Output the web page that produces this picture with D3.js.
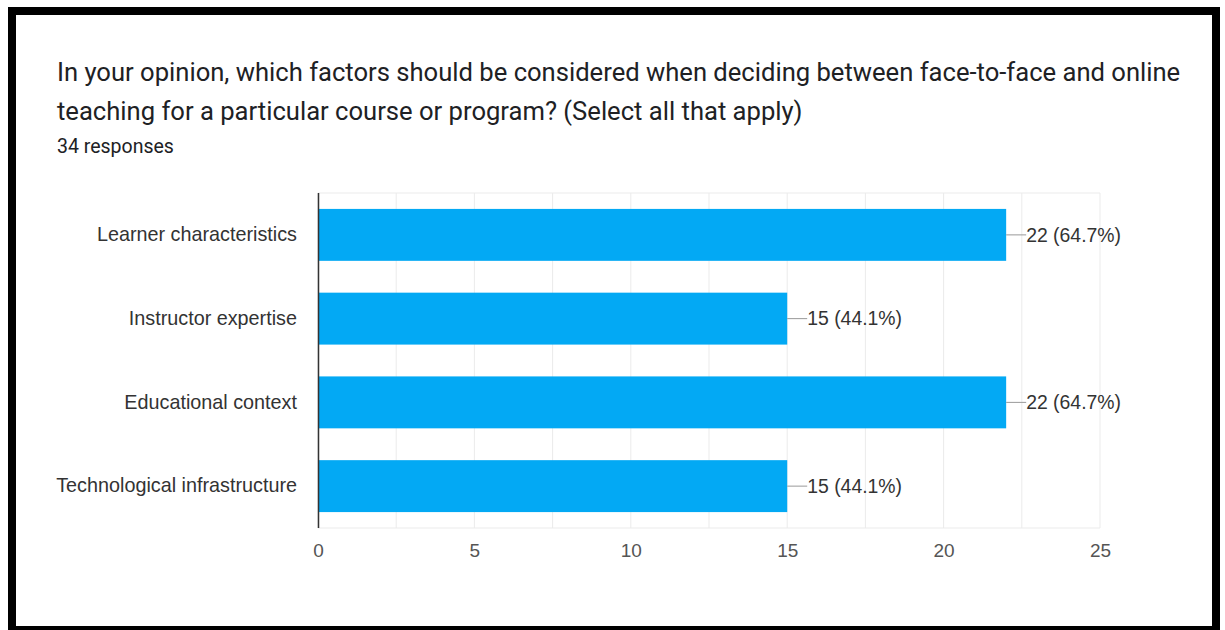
<!DOCTYPE html>
<html><head><meta charset="utf-8">
<script src="https://cdn.jsdelivr.net/npm/d3@7"></script>
<style>body{margin:0;background:#fff;}svg{display:block;}</style>
</head><body>
<svg id="chart" width="1225" height="630"></svg>
<script>
const categories = ["Learner characteristics","Instructor expertise","Educational context","Technological infrastructure"];
const counts = [22,15,22,15];
const percents = ["64.7%","44.1%","64.7%","44.1%"];
const xTicks = [0,5,10,15,20,25];
const titleLines = ["In your opinion, which factors should be considered when deciding between face-to-face and online","teaching for a particular course or program? (Select all that apply)"];
const subtitle = "34 responses";

const svg = d3.select("#chart");
// frame
svg.append("rect").attr("x",8).attr("y",7).attr("width",1212).attr("height",630).attr("fill","#000");
svg.append("rect").attr("x",16).attr("y",15).attr("width",1196).attr("height",611).attr("fill","#fff");

svg.selectAll("text.title").data(titleLines).join("text")
  .attr("x",57).attr("y",(d,i)=>81+i*39)
  .attr("font-family","Roboto").attr("font-size",25.6).attr("fill","#202124").text(d=>d);
svg.append("text").attr("x",57).attr("y",153).attr("font-family","Roboto").attr("font-size",19.5).attr("fill","#202124").text(subtitle);

const x = d3.scaleLinear().domain([0,25]).range([318,1100]);
const y = d3.scaleBand().domain(categories).range([193,528]).paddingInner(0.38).paddingOuter(0.19);

const gridVals = d3.range(0,25.01,2.5);
svg.append("g").selectAll("line").data(gridVals).join("line")
  .attr("x1",d=>x(d)).attr("x2",d=>x(d)).attr("y1",193).attr("y2",528)
  .attr("stroke","#ebebeb").attr("stroke-width",1);
svg.append("line").attr("x1",318).attr("x2",1100).attr("y1",193).attr("y2",193).attr("stroke","#ebebeb");
svg.append("line").attr("x1",318).attr("x2",1100).attr("y1",528).attr("y2",528).attr("stroke","#ebebeb");

svg.append("g").selectAll("rect").data(categories).join("rect")
  .attr("x",x(0)).attr("y",d=>y(d)).attr("width",(d,i)=>x(counts[i])-x(0)).attr("height",y.bandwidth())
  .attr("fill","#03a9f4");

svg.append("line").attr("x1",318.5).attr("x2",318.5).attr("y1",193).attr("y2",528).attr("stroke","#333").attr("stroke-width",1.5);

// labels
svg.append("g").selectAll("line").data(categories).join("line")
  .attr("x1",(d,i)=>x(counts[i])).attr("x2",(d,i)=>x(counts[i])+20)
  .attr("y1",d=>y(d)+y.bandwidth()/2).attr("y2",d=>y(d)+y.bandwidth()/2)
  .attr("stroke","#999").attr("stroke-width",1);
svg.append("g").selectAll("text").data(categories).join("text")
  .attr("x",(d,i)=>x(counts[i])+20).attr("y",d=>y(d)+y.bandwidth()/2).attr("dy","0.35em")
  .attr("font-family","Liberation Sans, Arial").attr("font-size",19.4).attr("fill","#333")
  .text((d,i)=>`${counts[i]} (${percents[i]})`);

const yAxis = d3.axisLeft(y).tickSize(0).tickPadding(21);
const gy = svg.append("g").attr("transform","translate(318,0)").call(yAxis);
gy.select(".domain").remove();
gy.selectAll("text").attr("font-family","Liberation Sans, Arial").attr("font-size",19.8).attr("fill","#333");

const xAxis = d3.axisBottom(x).tickValues(xTicks).tickSize(0).tickPadding(16);
const gx = svg.append("g").attr("transform","translate(0,528)").call(xAxis);
gx.select(".domain").remove();
gx.selectAll("text").attr("font-family","Liberation Sans, Arial").attr("font-size",19).attr("fill","#555");
</script>
</body></html>
